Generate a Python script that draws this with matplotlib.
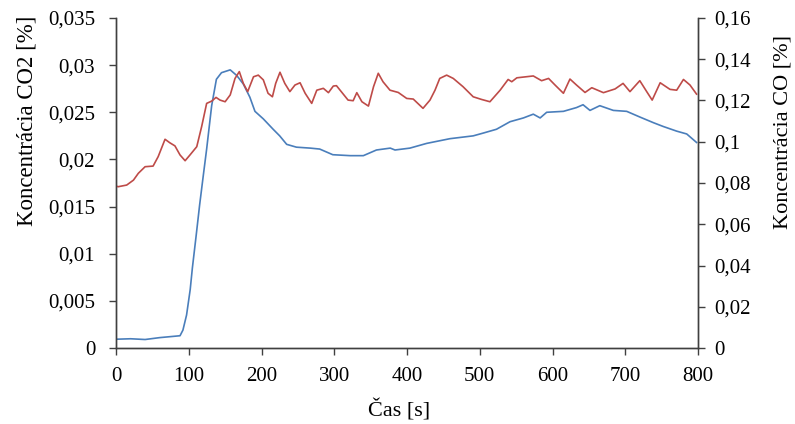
import matplotlib
matplotlib.use("Agg")
import matplotlib.pyplot as plt
from matplotlib.ticker import FuncFormatter, MultipleLocator

# CO2 (left axis), blue
t_co2 = [0, 20, 40, 60, 88, 92, 97, 102, 105, 110, 115, 120, 124.6, 131.5, 138, 145, 157, 166, 175,
         184, 191, 202.5, 216, 225, 234.6, 248, 267, 280, 298, 322, 340, 358, 377, 383.5, 404,
         427, 459, 491, 505, 523, 541.6, 560, 573.6, 583, 592, 615, 633, 642, 651.5, 665, 683.6,
         702, 720, 738.6, 752, 770.7, 784.5, 798]
co2 = [0.00093, 0.00098, 0.0009, 0.0011, 0.0013, 0.0019, 0.0035, 0.0062, 0.0085, 0.0118, 0.0152,
       0.0183, 0.0211, 0.0257, 0.0285, 0.0292, 0.0295, 0.0289, 0.0280, 0.0266, 0.0251, 0.0243,
       0.0232, 0.0225, 0.0216, 0.0213, 0.0212, 0.0211, 0.0205, 0.0204, 0.0204, 0.0210, 0.0212,
       0.0210, 0.0212, 0.0217, 0.0222, 0.0225, 0.0228, 0.0232, 0.0240, 0.0244, 0.0248, 0.0244,
       0.0250, 0.0251, 0.0255, 0.0258, 0.0252, 0.0257, 0.0252, 0.0251, 0.0245, 0.0239, 0.0235,
       0.0230, 0.0227, 0.0218]

# CO (right axis), red
t_co = [0, 3, 14.7, 24, 30.7, 40, 51, 58, 67.4, 74, 81, 88, 95, 101.7, 111, 117.7, 124.6, 131.5,
        137.5, 143, 150, 157, 163.6, 169.5, 175, 181, 189, 195.6, 202.5, 209, 215, 219.5, 225.4,
        232, 239, 246, 253, 260, 269, 276, 285, 292, 298.7, 303, 319, 326, 331, 338, 347, 354,
        360.5, 367, 376.6, 388, 399.6, 408.6, 422, 431.6, 438.5, 445, 454.5, 463.6, 477, 491,
        502.6, 514, 528, 539, 544, 551, 573.6, 585, 594.6, 603.5, 615, 624, 633, 644.7, 654,
        670, 686, 697, 706.5, 720, 729.5, 737, 748, 761.5, 770.7, 780, 789, 798]
co = [0.0785, 0.0782, 0.0790, 0.0814, 0.0847, 0.0879, 0.0882, 0.0928, 0.1012, 0.0995, 0.0980,
      0.0936, 0.0908, 0.0936, 0.0976, 0.1073, 0.1186, 0.1197, 0.1215, 0.1202, 0.1194, 0.1227,
      0.1307, 0.1340, 0.1283, 0.1243, 0.1315, 0.1323, 0.1300, 0.1235, 0.1218, 0.1283, 0.1337,
      0.1283, 0.1243, 0.1275, 0.1286, 0.1235, 0.1186, 0.1250, 0.1259, 0.1238, 0.1270, 0.1272,
      0.1202, 0.1199, 0.1238, 0.1194, 0.1173, 0.1267, 0.1332, 0.1291, 0.1250, 0.1239, 0.1210,
      0.1207, 0.1162, 0.1202, 0.1250, 0.1307, 0.1323, 0.1307, 0.1267, 0.1218, 0.1205, 0.1194,
      0.1250, 0.1302, 0.1291, 0.1310, 0.1319, 0.1296, 0.1307, 0.1275, 0.1235, 0.1304, 0.1275,
      0.1239, 0.1262, 0.1238, 0.1256, 0.1283, 0.1243, 0.1296, 0.1243, 0.1202, 0.1286, 0.1254,
      0.1250, 0.1302, 0.1275, 0.1231]

xlabel = "Čas [s]"
ylabel_left = "Koncentrácia CO2 [%]"
ylabel_right = "Koncentrácia CO [%]"

plt.rcParams['font.family'] = ['Liberation Serif', 'DejaVu Serif']

W, H = 795, 424
fig = plt.figure(figsize=(W/100, H/100), dpi=100)
x0, x1, y0, y1 = 116, 698, 348, 18
ax = fig.add_axes([x0/W, 1-y0/H, (x1-x0)/W, (y0-y1)/H])
ax2 = ax.twinx()

ax.plot(t_co2, co2, color='#4A7EBB', lw=1.2)
ax2.plot(t_co, co, color='#BE4B48', lw=1.2)

ax.set_xlim(0, 800)
ax.set_ylim(0, 0.035)
ax2.set_ylim(0, 0.16)
ax.xaxis.set_major_locator(MultipleLocator(100))
ax.yaxis.set_major_locator(MultipleLocator(0.005))
ax2.yaxis.set_major_locator(MultipleLocator(0.02))

def comma(v, pos):
    s = ('%.3f' % v).rstrip('0').rstrip('.')
    return s.replace('.', ',')

ax.yaxis.set_major_formatter(FuncFormatter(comma))
ax2.yaxis.set_major_formatter(FuncFormatter(comma))

spc = '#404040'
for a in (ax, ax2):
    a.spines['top'].set_visible(False)
    for s in ('left', 'right', 'bottom'):
        a.spines[s].set_color(spc)
        a.spines[s].set_linewidth(1.0)
    a.tick_params(direction='out', length=5, width=1.0, color=spc, labelcolor='black', labelsize=15)

ax.tick_params(axis='x', pad=9)
ax.tick_params(axis='y', pad=10)
ax2.tick_params(axis='y', pad=7)

fig.text(399/W, 1-410/H, xlabel, fontsize=16, ha='center', va='center')
fig.text(27/W, 1-121/H, ylabel_left, fontsize=16.5, rotation=90, ha='center', va='center')
fig.text(783/W, 1-132/H, ylabel_right, fontsize=16, rotation=90, ha='center', va='center')

fig.savefig('out.png', dpi=100)
